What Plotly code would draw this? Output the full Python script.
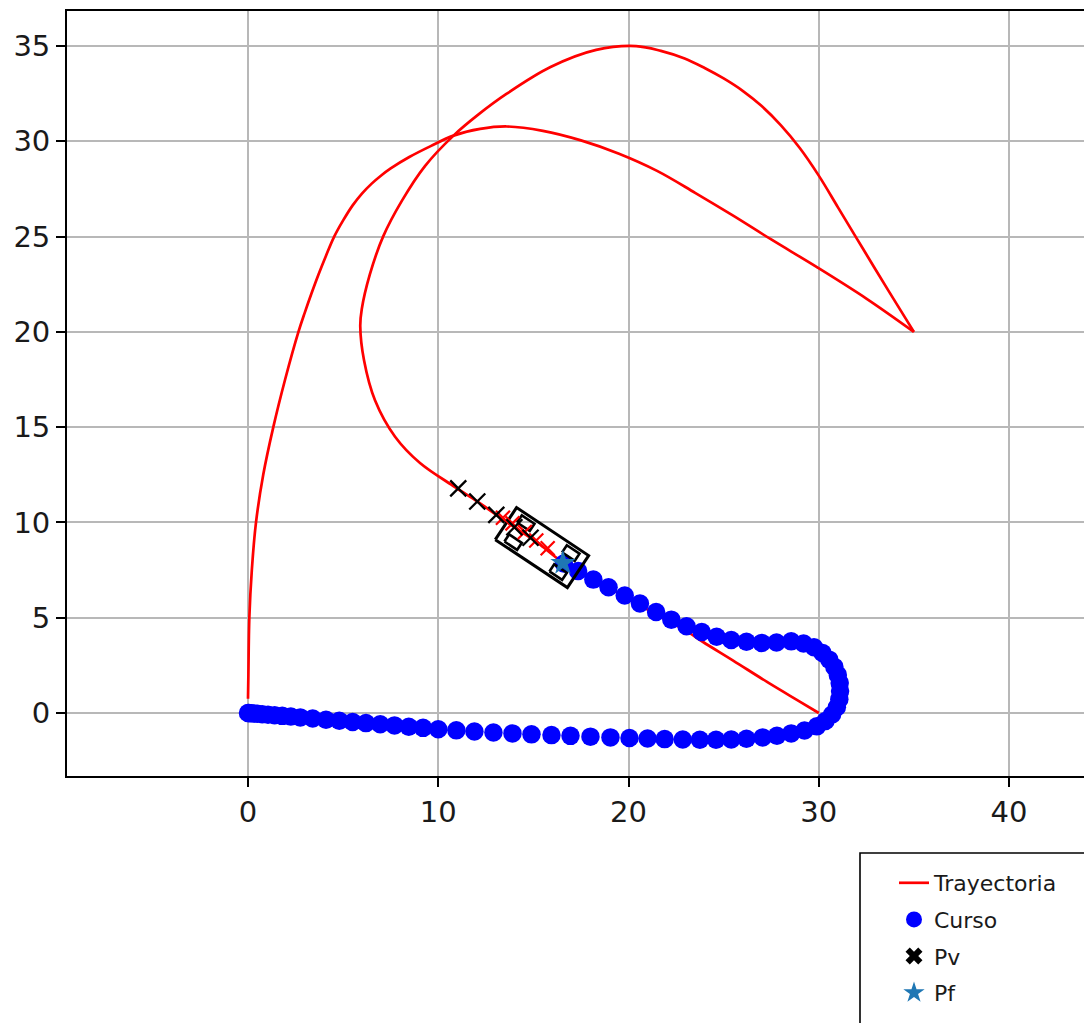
import numpy as np
import plotly.graph_objects as go

# ---------------- data ----------------
# Trajectory (reference path), split at the cusp near (35, 20)
traj_a_x = [0.0, 0.02, 0.07, 0.2, 0.42, 0.8, 1.33, 1.95, 2.65, 2.98, 3.33, 3.7, 4.1, 4.53,
            5.0, 5.5, 6.0, 6.5, 7.0, 7.5, 8.5, 9.6, 10.8, 12.2, 13.6, 15.5, 17.5, 19.5, 21.5,
            23.5, 25.5, 27.5, 29.9, 32.5, 35.0]
traj_a_y = [0.75, 2.0, 5.0, 7.5, 10.0, 12.5, 15.0, 17.5, 20.0, 21.0, 22.0, 23.0, 24.0, 25.0,
            25.85, 26.64, 27.27, 27.78, 28.21, 28.58, 29.19, 29.75, 30.3, 30.65, 30.78, 30.55,
            30.05, 29.35, 28.45, 27.3, 26.1, 24.85, 23.4, 21.75, 20.0]
traj_b_x = [35.0, 33.7, 32.3, 31.0, 30.0, 29.0, 28.0, 27.0, 26.0, 25.0, 24.0, 22.95, 21.7, 20.4,
            18.3, 15.9, 13.6, 12.1, 10.8, 9.3, 8.1, 7.1, 6.4, 5.98, 5.9, 6.1, 6.68, 7.73, 9.04,
            10.88, 12.05, 13.05, 14.05, 15.2, 16.55, 17.4, 18.2, 19.0, 19.8, 20.6, 21.5, 22.3,
            23.05, 23.9, 25.5, 27.3, 29.0, 30.0]
traj_b_y = [20.0, 22.1, 24.4, 26.55, 28.2, 29.65, 30.85, 31.85, 32.65, 33.3, 33.85, 34.35, 34.75,
            35.0, 34.8, 33.9, 32.5, 31.4, 30.3, 28.7, 26.9, 25.0, 23.0, 21.2, 20.3, 18.5, 16.4,
            14.5, 13.12, 11.86, 11.1, 10.4, 9.72, 8.95, 7.9, 7.45, 7.0, 6.55, 6.1, 5.65, 5.15,
            4.7, 4.3, 3.74, 2.75, 1.62, 0.6, 0.0]

# Course actually followed (dots)
curso_x = [0.0, 0.05, 0.15, 0.3, 0.5, 0.75, 1.05, 1.4, 1.8, 2.25, 2.75, 3.4, 4.1, 4.8, 5.5,
           6.2, 6.95, 7.7, 8.45, 9.2, 10.0, 10.95, 11.9, 12.9, 13.9, 14.9, 15.95, 16.95, 18.0,
           19.05, 20.05, 21.0, 21.9, 22.85, 23.75, 24.6, 25.4, 26.2, 27.05, 27.8, 28.55, 29.25,
           29.9, 30.35, 30.7, 30.95, 31.08, 31.12, 31.1, 31.0, 30.82, 30.55, 30.2, 29.75, 29.2,
           28.55, 27.78, 27.0, 26.2, 25.4, 24.63, 23.85, 23.05, 22.25, 21.45, 20.6, 19.8, 18.95,
           18.15, 17.35, 16.6]
curso_y = [0.0, 0.0, -0.01, -0.03, -0.04, -0.06, -0.09, -0.12, -0.15, -0.19, -0.23, -0.29,
           -0.35, -0.41, -0.47, -0.53, -0.59, -0.65, -0.72, -0.78, -0.85, -0.91, -0.97, -1.02,
           -1.07, -1.12, -1.16, -1.2, -1.24, -1.28, -1.31, -1.34, -1.37, -1.39, -1.4, -1.4,
           -1.39, -1.35, -1.28, -1.19, -1.07, -0.92, -0.7, -0.42, -0.08, 0.3, 0.72, 1.15, 1.58,
           2.0, 2.42, 2.8, 3.15, 3.45, 3.65, 3.76, 3.7, 3.68, 3.74, 3.83, 4.0, 4.25, 4.55, 4.9,
           5.3, 5.75, 6.17, 6.6, 7.0, 7.45, 7.85]

# Pv points (black crosses) and predicted points (red crosses)
pv_x = [11.05, 12.05, 13.05, 14.0, 14.85]
pv_y = [11.79, 11.1, 10.4, 9.75, 9.2]
pred_x = [13.4, 13.9, 14.55, 15.15, 15.75]
pred_y = [10.25, 9.95, 9.5, 9.05, 8.65]

# Pf point (star)
pf_x = [16.55]
pf_y = [7.87]

# Vehicle pose and geometry
veh_center = (15.45, 8.68)
veh_heading_deg = -33.6
veh_length = 4.55
veh_width = 2.02
wheel_offsets = [(-1.42, 0.6), (-1.42, -0.6), (1.42, 0.6), (1.42, -0.6)]
wheel_size = (0.8, 0.45)

x_ticks = [0, 10, 20, 30, 40]
y_ticks = [0, 5, 10, 15, 20, 25, 30, 35]


def rect_outline(cx, cy, ang, length, width, ox=0.0, oy=0.0):
    c, s = np.cos(ang), np.sin(ang)
    pts = [(-length / 2, -width / 2), (length / 2, -width / 2), (length / 2, width / 2),
           (-length / 2, width / 2), (-length / 2, -width / 2)]
    xs, ys = [], []
    for px, py in pts:
        lx, ly = px + ox, py + oy
        xs.append(cx + lx * c - ly * s)
        ys.append(cy + lx * s + ly * c)
    return xs, ys


ang = np.deg2rad(veh_heading_deg)
box_x, box_y = rect_outline(veh_center[0], veh_center[1], ang, veh_length, veh_width)
wx, wy = [], []
for ox, oy in wheel_offsets:
    xs, ys = rect_outline(veh_center[0], veh_center[1], ang, wheel_size[0], wheel_size[1], ox, oy)
    wx += xs + [None]
    wy += ys + [None]

red_line = dict(color="#ff0000", width=2.7, shape="spline", smoothing=1.0)

fig = go.Figure()
fig.add_trace(go.Scatter(x=traj_a_x, y=traj_a_y, mode="lines", name="Trayectoria",
                         legendgroup="g1", line=red_line))
fig.add_trace(go.Scatter(x=traj_b_x, y=traj_b_y, mode="lines", showlegend=False,
                         legendgroup="g1", line=red_line))
fig.add_trace(go.Scatter(x=curso_x, y=curso_y, mode="markers", name="Curso", legendgroup="g2",
                         marker=dict(color="#0000ff", size=18.5, line=dict(width=0))))
fig.add_trace(go.Scatter(x=box_x, y=box_y, mode="lines", showlegend=False,
                         line=dict(color="black", width=3)))
fig.add_trace(go.Scatter(x=wx, y=wy, mode="lines", showlegend=False,
                         line=dict(color="black", width=2.6)))
fig.add_trace(go.Scatter(x=pred_x, y=pred_y, mode="markers", showlegend=False,
                         marker=dict(symbol="x-thin", size=14, color="#ff0000",
                                     line=dict(color="#ff0000", width=2.2))))
fig.add_trace(go.Scatter(x=pv_x, y=pv_y, mode="markers", showlegend=False,
                         marker=dict(symbol="x-thin", size=16, color="black",
                                     line=dict(color="black", width=2.3))))
# legend proxy for Pv (bold cross as in the reference legend)
fig.add_trace(go.Scatter(x=[None], y=[None], mode="markers", name="Pv", legendgroup="g3",
                         marker=dict(symbol="x", size=15, color="black", line=dict(width=0))))
fig.add_trace(go.Scatter(x=pf_x, y=pf_y, mode="markers", name="Pf", legendgroup="g4",
                         marker=dict(symbol="star", size=19, color="#1f77b4", line=dict(width=0))))

W, H = 1084, 1023
ml, mt, mb = 67, 11, 247
plot_w = W - ml
plot_h = H - mt - mb

axis_common = dict(showgrid=True, gridcolor="#b8b8b8", gridwidth=1.7, zeroline=False,
                   showline=True, linecolor="black", linewidth=1.8,
                   ticks="outside", ticklen=9, tickwidth=1.8, tickcolor="black",
                   tickfont=dict(family="DejaVu Sans", size=29, color="#1a1a1a"))

fig.update_xaxes(range=[-9.514, 43.94], tickvals=x_ticks, mirror=True, **axis_common)
fig.update_yaxes(range=[-3.306, 36.84], tickvals=y_ticks, mirror=False, **axis_common)


def px_to_paper_x(px):
    return (px - ml) / plot_w


def px_to_paper_y(py):
    return (H - mb - py) / plot_h


fig.add_shape(type="rect", xref="paper", yref="paper",
              x0=px_to_paper_x(860), x1=px_to_paper_x(1092),
              y0=px_to_paper_y(1030), y1=px_to_paper_y(853),
              line=dict(color="black", width=1.6), fillcolor="white", layer="below")

fig.update_layout(
    width=W, height=H,
    margin=dict(l=ml, r=0, t=mt, b=mb, autoexpand=False),
    plot_bgcolor="white", paper_bgcolor="white",
    legend=dict(x=px_to_paper_x(894), y=px_to_paper_y(862), xanchor="left", yanchor="top",
                bgcolor="rgba(0,0,0,0)", borderwidth=0, traceorder="grouped",
                tracegroupgap=5,
                font=dict(family="DejaVu Sans", size=22, color="#1a1a1a")),
    showlegend=True,
)

fig.write_html("out.html")
